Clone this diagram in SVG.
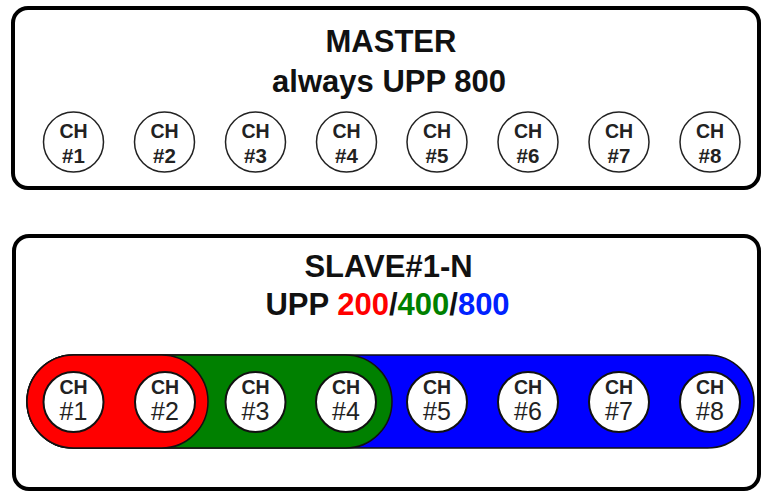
<svg xmlns="http://www.w3.org/2000/svg" width="761" height="491" viewBox="0 0 761 491">
<style>
.box{fill:#fff;stroke:#000;stroke-width:4}
.title{font-family:"Liberation Sans",Arial,sans-serif;font-weight:bold;font-size:31px;text-anchor:middle;fill:#111}
.mc{fill:#fff;stroke:#222;stroke-width:1.5}
.sc{fill:#fff;stroke:#111;stroke-width:2}
.band{stroke:#111;stroke-width:1.5}
.t1{font-family:"Liberation Sans",Arial,sans-serif;font-weight:bold;font-size:19.5px;text-anchor:middle;fill:#222}
.t2{font-family:"Liberation Sans",Arial,sans-serif;font-weight:bold;font-size:20.5px;text-anchor:middle;fill:#222}
.t3{font-family:"Liberation Sans",Arial,sans-serif;font-size:25px;text-anchor:middle;fill:#222}
</style>
<g id="master">
<rect class="box" x="13" y="8" width="746" height="180" rx="15"/>
<text class="title" x="391" y="52">MASTER</text>
<text class="title" x="389" y="92">always UPP 800</text>
</g>
<g id="master-ch1"><circle class="mc" cx="73.5" cy="142" r="30"/><text class="t1" x="73.5" y="137.5">CH</text><text class="t2" x="73.5" y="162.5">#1</text></g>
<g id="master-ch2"><circle class="mc" cx="164.5" cy="142" r="30"/><text class="t1" x="164.5" y="137.5">CH</text><text class="t2" x="164.5" y="162.5">#2</text></g>
<g id="master-ch3"><circle class="mc" cx="255.5" cy="142" r="30"/><text class="t1" x="255.5" y="137.5">CH</text><text class="t2" x="255.5" y="162.5">#3</text></g>
<g id="master-ch4"><circle class="mc" cx="346.5" cy="142" r="30"/><text class="t1" x="346.5" y="137.5">CH</text><text class="t2" x="346.5" y="162.5">#4</text></g>
<g id="master-ch5"><circle class="mc" cx="437" cy="142" r="30"/><text class="t1" x="437" y="137.5">CH</text><text class="t2" x="437" y="162.5">#5</text></g>
<g id="master-ch6"><circle class="mc" cx="528" cy="142" r="30"/><text class="t1" x="528" y="137.5">CH</text><text class="t2" x="528" y="162.5">#6</text></g>
<g id="master-ch7"><circle class="mc" cx="619" cy="142" r="30"/><text class="t1" x="619" y="137.5">CH</text><text class="t2" x="619" y="162.5">#7</text></g>
<g id="master-ch8"><circle class="mc" cx="710" cy="142" r="30"/><text class="t1" x="710" y="137.5">CH</text><text class="t2" x="710" y="162.5">#8</text></g>
<g id="slave">
<rect class="box" x="14" y="236" width="745" height="253" rx="15"/>
<text class="title" x="388.5" y="277">SLAVE#1-N</text>
<text class="title" x="387.5" y="315">UPP <tspan fill="#ff0000">200</tspan>/<tspan fill="#008000">400</tspan>/<tspan fill="#0022ff">800</tspan></text>
</g>
<g id="bands">
<rect id="band-800" class="band" x="27" y="355" width="727" height="93" rx="46.5" fill="#0000ff"/>
<rect id="band-400" class="band" x="27" y="355" width="365" height="93" rx="46.5" fill="#008000"/>
<rect id="band-200" class="band" x="27" y="355" width="181" height="93" rx="46.5" fill="#ff0000"/>
</g>
<g id="connectors"></g>
<g id="slave-ch1"><circle class="sc" cx="73.5" cy="402" r="30"/><text class="t1" x="73.5" y="394">CH</text><text class="t3" x="73.5" y="420">#1</text></g>
<g id="slave-ch2"><circle class="sc" cx="165" cy="402" r="30"/><text class="t1" x="165" y="394">CH</text><text class="t3" x="165" y="420">#2</text></g>
<g id="slave-ch3"><circle class="sc" cx="255.5" cy="402" r="30"/><text class="t1" x="255.5" y="394">CH</text><text class="t3" x="255.5" y="420">#3</text></g>
<g id="slave-ch4"><circle class="sc" cx="346" cy="402" r="30"/><text class="t1" x="346" y="394">CH</text><text class="t3" x="346" y="420">#4</text></g>
<g id="slave-ch5"><circle class="sc" cx="437" cy="402" r="30"/><text class="t1" x="437" y="394">CH</text><text class="t3" x="437" y="420">#5</text></g>
<g id="slave-ch6"><circle class="sc" cx="528" cy="402" r="30"/><text class="t1" x="528" y="394">CH</text><text class="t3" x="528" y="420">#6</text></g>
<g id="slave-ch7"><circle class="sc" cx="619" cy="402" r="30"/><text class="t1" x="619" y="394">CH</text><text class="t3" x="619" y="420">#7</text></g>
<g id="slave-ch8"><circle class="sc" cx="710" cy="402" r="30"/><text class="t1" x="710" y="394">CH</text><text class="t3" x="710" y="420">#8</text></g>
</svg>
